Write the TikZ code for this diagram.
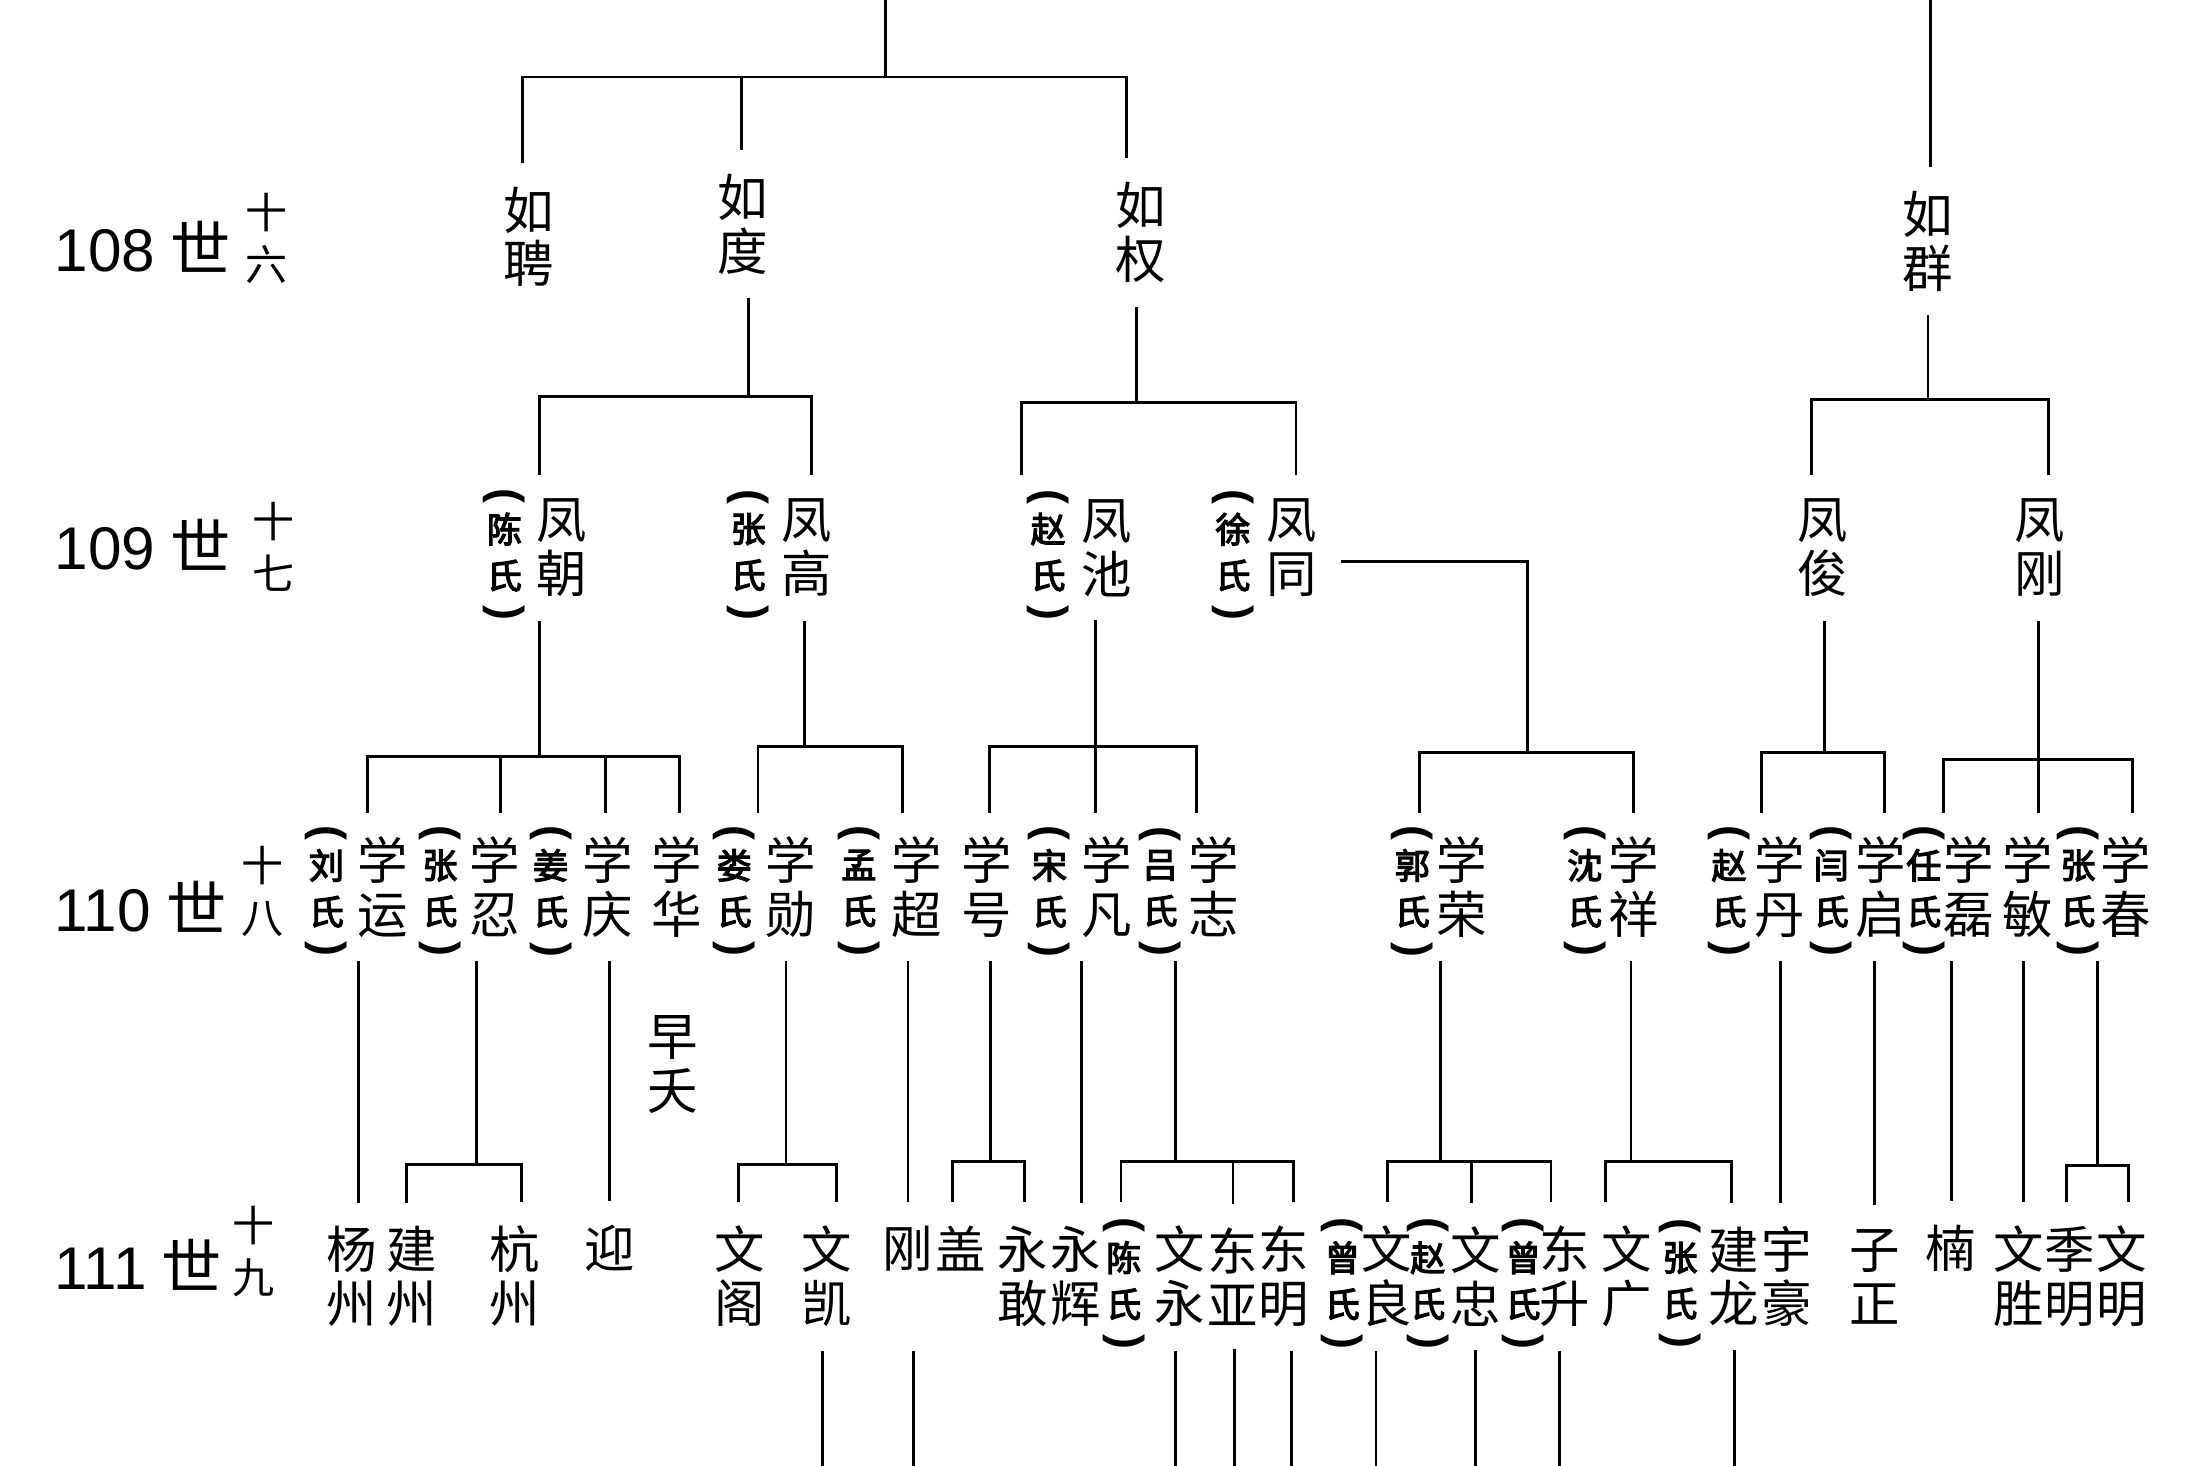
\documentclass[tikz,border=0pt]{standalone}
\usepackage{fontspec}
\setmainfont{Liberation Sans}
\newfontfamily\cjk{Noto Sans CJK SC}
\newfontfamily\cjkbold[FakeBold=3.5]{Noto Sans CJK SC}
\usetikzlibrary{positioning}

\begin{document}
\begin{tikzpicture}[
    x=1pt, y=-1pt,
    person/.style={font=\cjk\fontsize{36}{38.5}\selectfont, align=center, inner sep=0pt, outer sep=18pt},
    wife/.style={font=\cjkbold\fontsize{25}{33}\selectfont, align=center, inner sep=0pt},
    brk/.style={font=\bfseries\fontsize{32}{32}\selectfont, inner sep=0pt},
    gen/.style={font=\fontsize{43}{43}\selectfont, anchor=west, inner sep=0pt},
    genno/.style={font=\cjk\fontsize{30}{37}\selectfont, align=center, inner sep=0pt},
    link/.style={line width=2pt, line cap=rect}
]
    \useasboundingbox (0,0) rectangle (1568,1046);
    \fill[white] (0,0) rectangle (1568,1046);
    \coordinate (top1) at (632,0);
    \coordinate (top2) at (1378,0);
    \coordinate (bottom) at (0,1046);

    % GENERATION LABELS
    \node (g108) [gen] at (39,176) {108\hspace{11pt}{\cjk 世}};
    \node (g109) [gen] at (39,389) {109\hspace{11pt}{\cjk 世}};
    \node (g110) [gen] at (39,647) {110\hspace{11pt}{\cjk 世}};
    \node (g111) [gen] at (39,903) {111\hspace{11pt}{\cjk 世}};
    \node (n108) [genno] at (190,170) {十\\六};
    \node (n109) [genno] at (195,390) {十\\七};
    \node (n110) [genno] at (187,636) {十\\八};
    \node (n111) [genno] at (181,893) {十\\九};

    % 108
    \node (ruping) [person] at (377,169) {如\\聘};
    \node (rudu) [person] at (530,160) {如\\度};
    \node (ruquan) [person] at (814,166) {如\\权};
    \node (ruqun) [person] at (1376,172) {如\\群};

    % 109
    \node (wchen) [wife] at (360,394) {陈\\氏};
    \node (fengchao) [person] at (401,391) {凤\\朝};
    \node (wzhang) [wife] at (534,394) {张\\氏};
    \node (fenggao) [person] at (576,391) {凤\\高};
    \node (wzhao) [wife] at (748,394) {赵\\氏};
    \node (fengchi) [person] at (790,391) {凤\\池};
    \node (wxu) [wife] at (880,394) {徐\\氏};
    \node (fengtong) [person] at (922,391) {凤\\同};
    \node (fengjun) [person] at (1301,391) {凤\\俊};
    \node (fenggang) [person] at (1456,391) {凤\\刚};

    % 110
    \node (wliu) [wife] at (233,634) {刘\\氏};
    \node (xueyun) [person] at (273,633) {学\\运};
    \node (wzhang1) [wife] at (314,634) {张\\氏};
    \node (xueren) [person] at (353,633) {学\\忍};
    \node (wjiang) [wife] at (393,634) {姜\\氏};
    \node (xueqing) [person] at (434,633) {学\\庆};
    \node (xuehua) [person] at (483,633) {学\\华};
    \node (zaoyao) [person] at (480,760) {早\\夭};
    \node (wlou) [wife] at (524,634) {娄\\氏};
    \node (xuexun) [person] at (564,633) {学\\勋};
    \node (wmeng) [wife] at (613,634) {孟\\氏};
    \node (xuechao) [person] at (654,633) {学\\超};
    \node (xuehao) [person] at (704,633) {学\\号};
    \node (wsong) [wife] at (749,634) {宋\\氏};
    \node (xuefan) [person] at (790,633) {学\\凡};
    \node (wlv) [wife] at (828,634) {吕\\氏};
    \node (xuezhi) [person] at (866,633) {学\\志};
    \node (wguo) [wife] at (1008,634) {郭\\氏};
    \node (xuerong) [person] at (1043,633) {学\\荣};
    \node (wshen) [wife] at (1131,634) {沈\\氏};
    \node (xuexiang) [person] at (1166,633) {学\\祥};
    \node (wzhao2) [wife] at (1234,634) {赵\\氏};
    \node (xuedan) [person] at (1270,633) {学\\丹};
    \node (wyan) [wife] at (1307,634) {闫\\氏};
    \node (xueqi) [person] at (1342,633) {学\\启};
    \node (wren) [wife] at (1373,634) {任\\氏};
    \node (xuelei) [person] at (1405,633) {学\\磊};
    \node (xuemin) [person] at (1447,633) {学\\敏};
    \node (wzhang2) [wife] at (1483,634) {张\\氏};
    \node (xuechun) [person] at (1517,633) {学\\春};

    % 111
    \node (yangzhou) [person] at (251,911) {杨\\州};
    \node (jianzhou) [person] at (294,911) {建\\州};
    \node (hangzhou) [person] at (367,911) {杭\\州};
    \node (ying) [person] at (435,891) {迎};
    \node (wenge) [person] at (528,911) {文\\阁};
    \node (wenkai) [person] at (590,911) {文\\凯};
    \node (gang) [person] at (648,891) {刚};
    \node (gai) [person] at (686,891) {盖};
    \node (yonggan) [person] at (730,911) {永\\敢};
    \node (yonghui) [person] at (768,911) {永\\辉};
    \node (wchen2) [wife] at (802,914) {陈\\氏};
    \node (wenyong) [person] at (842,911) {文\\永};
    \node (dongya) [person] at (880,911) {东\\亚};
    \node (dongming) [person] at (916,911) {东\\明};
    \node (wzeng1) [wife] at (958,914) {曾\\氏};
    \node (wenliang) [person] at (990,911) {文\\良};
    \node (wzhao3) [wife] at (1019,914) {赵\\氏};
    \node (wenzhong) [person] at (1053,911) {文\\忠};
    \node (wzeng2) [wife] at (1087,914) {曾\\氏};
    \node (dongsheng) [person] at (1117,911) {东\\升};
    \node (wenguang) [person] at (1161,911) {文\\广};
    \node (wzhang3) [wife] at (1199,914) {张\\氏};
    \node (jianlong) [person] at (1237,911) {建\\龙};
    \node (yuhao) [person] at (1275,911) {宇\\豪};
    \node (zizheng) [person] at (1338,911) {子\\正};
    \node (nan) [person] at (1392,891) {楠};
    \node (wensheng) [person] at (1441,911) {文\\胜};
    \node (jiming) [person] at (1477,911) {季\\明};
    \node (wenming) [person] at (1514,911) {文\\明};

    % BRACKETS ROUND THE WIVES
    \foreach \w in {wchen, wzhang, wzhao, wxu, wliu, wzhang1, wjiang, wlou, wmeng, wsong, wlv, wguo, wshen, wzhao2, wyan, wren, wzhang2, wchen2, wzeng1, wzhao3, wzeng2, wzhang3} {
        \node (\w-t) [brk, above=6pt of \w] {\rotatebox{-90}{(}};
        \node (\w-b) [brk, below=10pt of \w] {\rotatebox{-90}{)}};
    }

    % LINES INTO 108
    \draw [link] (top1) -- (632,55);
    \draw [link] (373,0 |- ruping.north) |- (804,55) -- (804,0 |- ruquan.north);
    \draw [link] (529,55) -- (529,0 |- rudu.north);
    \draw [link] (top2) -- (1378,0 |- ruqun.north);

    % 108 TO 109
    \draw [link] (534,0 |- rudu.south) -- (534,283);
    \draw [link] (385,0 |- fengchao.north) |- (579,283) -- (579,0 |- fenggao.north);
    \draw [link] (811,0 |- ruquan.south) -- (811,287);
    \draw [link] (729,0 |- fengchi.north) |- (925,287) -- (925,0 |- fengtong.north);
    \draw [link] (1376,0 |- ruqun.south) -- (1376,285);
    \draw [link] (1293,0 |- fengjun.north) |- (1462,285) -- (1462,0 |- fenggang.north);

    % 109 TO 110
    \draw [link] (385,0 |- fengchao.south) -- (385,540);
    \draw [link] (262,0 |- xueyun.north) |- (485,540) -- (485,0 |- xuehua.north);
    \draw [link] (357,540) -- (357,0 |- xueren.north);
    \draw [link] (432,540) -- (432,0 |- xueqing.north);
    \draw [link] (574,0 |- fenggao.south) -- (574,533);
    \draw [link] (541,0 |- xuexun.north) |- (644,533) -- (644,0 |- xuechao.north);
    \draw [link] (782,0 |- fengchi.south) -- (782,0 |- xuefan.north);
    \draw [link] (706,0 |- xuehao.north) |- (854,533) -- (854,0 |- xuezhi.north);
    \draw [link] ([yshift=-10pt]fengtong.east) -| (1090,537);
    \draw [link] (1013,0 |- xuerong.north) |- (1166,537) -- (1166,0 |- xuexiang.north);
    \draw [link] (1302,0 |- fengjun.south) -- (1302,537);
    \draw [link] (1257,0 |- xuedan.north) |- (1345,537) -- (1345,0 |- xueqi.north);
    \draw [link] (1455,0 |- fenggang.south) -- (1455,0 |- xuemin.north);
    \draw [link] (1387,0 |- xuelei.north) |- (1522,542) -- (1522,0 |- xuechun.north);

    % 110 TO 111
    \draw [link] (256,0 |- xueyun.south) -- (256,0 |- yangzhou.north);
    \draw [link] (340,0 |- xueren.south) -- (340,831);
    \draw [link] (290,0 |- jianzhou.north) |- (372,831) -- (372,0 |- hangzhou.north);
    \draw [link] (435,0 |- xueqing.south) -- (435,0 |- ying.north);
    \draw [link] (561,0 |- xuexun.south) -- (561,831);
    \draw [link] (527,0 |- wenge.north) |- (597,831) -- (597,0 |- wenkai.north);
    \draw [link] (648,0 |- xuechao.south) -- (648,0 |- gang.north);
    \draw [link] (707,0 |- xuehao.south) -- (707,829);
    \draw [link] (680,0 |- gai.north) |- (731,829) -- (731,0 |- yonggan.north);
    \draw [link] (772,0 |- xuefan.south) -- (772,0 |- yonghui.north);
    \draw [link] (839,0 |- xuezhi.south) -- (839,829);
    \draw [link] (800,0 |- wenyong.north) |- (923,829) -- (923,0 |- dongming.north);
    \draw [link] (880,829) -- (880,0 |- dongya.north);
    \draw [link] (1028,0 |- xuerong.south) -- (1028,829);
    \draw [link] (990,0 |- wenliang.north) |- (1107,829) -- (1107,0 |- dongsheng.north);
    \draw [link] (1050,829) -- (1050,0 |- wenzhong.north);
    \draw [link] (1164,0 |- xuexiang.south) -- (1164,829);
    \draw [link] (1146,0 |- wenguang.north) |- (1236,829) -- (1236,0 |- jianlong.north);
    \draw [link] (1271,0 |- xuedan.south) -- (1271,0 |- yuhao.north);
    \draw [link] (1338,0 |- xueqi.south) -- (1338,0 |- zizheng.north);
    \draw [link] (1393,0 |- xuelei.south) -- (1393,0 |- nan.north);
    \draw [link] (1444,0 |- xuemin.south) -- (1444,0 |- wensheng.north);
    \draw [link] (1497,0 |- xuechun.south) -- (1497,832);
    \draw [link] (1475,0 |- jiming.north) |- (1519,832) -- (1519,0 |- wenming.north);

    % LINES OUT OF 111
    \foreach \x/\n in {587/wenkai, 652/wenkai, 839/wenyong, 881/dongya, 922/dongming, 982/wenliang, 1053/wenzhong, 1113/dongsheng, 1238/jianlong}
        \draw [link] (\x,0 |- \n.south) -- (\x,0 |- bottom);

\end{tikzpicture}
\end{document}
